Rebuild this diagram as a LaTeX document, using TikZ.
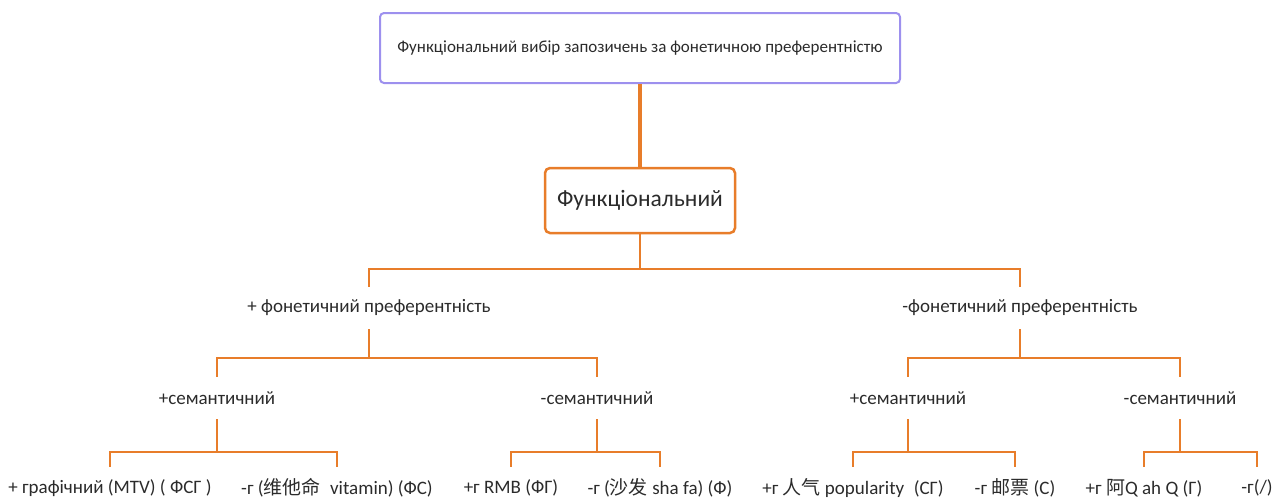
\documentclass[tikz,border=0pt]{standalone}
\usepackage{fontspec}
\setmainfont{Carlito}
\newfontfamily\cjk{Noto Sans CJK SC}
\usetikzlibrary{positioning, calc}
\definecolor{branchorange}{HTML}{E87D2A}
\definecolor{titleviolet}{HTML}{9D90EE}
\definecolor{textgray}{HTML}{2B2B2B}

\begin{document}
\begin{tikzpicture}[x=1pt, y=-1pt,
    every node/.style={text=textgray, inner sep=0pt},
    titlebox/.style={draw=titleviolet, line width=2pt, rounded corners=4pt,
        minimum width=520pt, minimum height=70pt, font=\fontsize{17}{20}\selectfont},
    rootbox/.style={draw=branchorange, line width=2.5pt, rounded corners=5pt, fill=white,
        minimum width=190pt, minimum height=65pt, font=\fontsize{23.5}{28}\selectfont},
    tag/.style={minimum height=42pt, font=\fontsize{19}{22}\selectfont},
    branch/.style={draw=branchorange, line width=2pt}]
    \useasboundingbox (0,0) rectangle (1287,499);

    \node[titlebox] (title) at (640,48) {Функціональний вибір запозичень за фонетичною преферентністю};
    \node[rootbox] (root) at (640,200.5) {Функціональний};

    \node[tag] (plusphon) at (369,308) {+ фонетичний преферентність};
    \node[tag] (minusphon) at (1020,308) {-фонетичний преферентність};

    \node[tag] (sema) at (217,398) {+семантичний};
    \node[tag] (semb) at (597,398) {-семантичний};
    \node[tag] (semc) at (908,398) {+семантичний};
    \node[tag] (semd) at (1180,398) {-семантичний};

    \node[tag] (leafa) at (110,488) {+ графічний (MTV) ( ФСГ )};
    \node[tag] (leafb) at (337,488) {-г ({\cjk 维他命}\enspace vitamin) (ФС)};
    \node[tag] (leafc) at (511,488) {+г RMB (ФГ)};
    \node[tag] (leafd) at (660,488) {-г ({\cjk 沙发} sha fa) (Ф)};
    \node[tag] (leafe) at (853,488) {+г {\cjk 人气} popularity\enspace(СГ)};
    \node[tag] (leaff) at (1015,488) {-г {\cjk 邮票} (С)};
    \node[tag] (leafg) at (1144,488) {+г {\cjk 阿}Q ah Q (Г)};
    \node[tag] (leafh) at (1257,488) {-г(/)};

    \draw[branch, line width=4pt] (title) -- (root);
    \draw[branch] (root.south) -- ++(0,35) coordinate (forkroot);
    \draw[branch] (plusphon.north) |- (forkroot) -| (minusphon.north);

    % semantic level
    \foreach \up/\left/\right in {plusphon/sema/semb, minusphon/semc/semd}{
        \draw[branch] (\up.south) -- ++(0,29) coordinate (fork\up);
        \draw[branch] (\left.north) |- (fork\up) -| (\right.north);
    }

    % graphic level
    \foreach \up/\left/\right in {sema/leafa/leafb, semb/leafc/leafd, semc/leafe/leaff, semd/leafg/leafh}{
        \draw[branch] (\up.south) -- ++(0,33) coordinate (fork\up);
        \draw[branch] (\left.north) |- (fork\up) -| (\right.north);
    }
\end{tikzpicture}
\end{document}
